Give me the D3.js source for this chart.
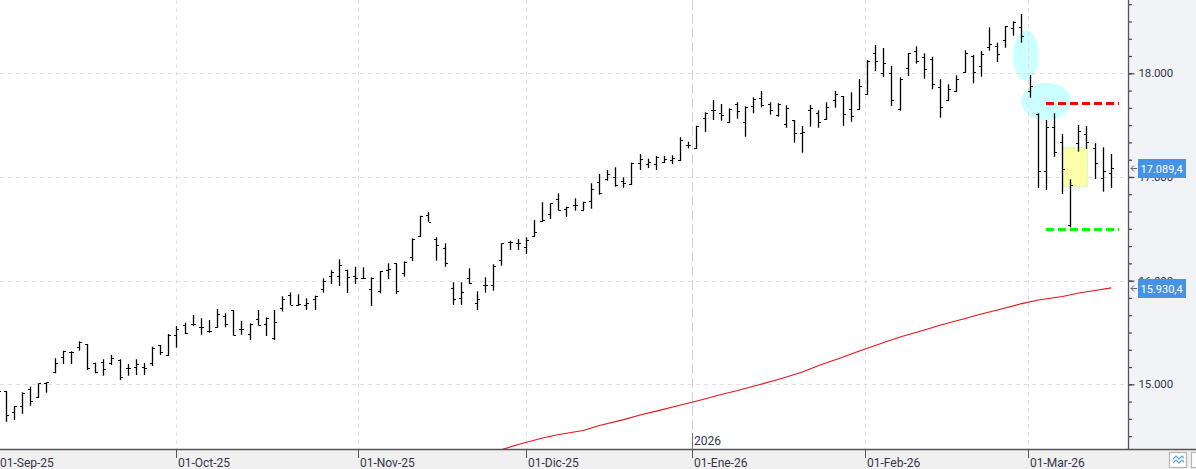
<!DOCTYPE html>
<html><head><meta charset="utf-8">
<script src="https://cdnjs.cloudflare.com/ajax/libs/d3/7.8.5/d3.min.js"></script>
<style>
html,body{margin:0;padding:0;background:#fff;overflow:hidden}
svg{display:block;font-family:Roboto,sans-serif}
</style></head><body><div id="chart"></div>
<script>
const firstBar=-1;
const opens=[14900,
14931,14733,14788,14952,14875,15010,15122,15260,15314,15357,
15386,15203,15218,15203,15234,15154,15164,15170,15203,15376,
15286,15473,15569,15579,15550,15517,15550,15659,15712,15536,
15482,15633,15582,15450,15733,15859,15765,15762,15826,15916,
16042,16042,16103,16042,16028,15916,15897,16103,16167,16071,
16225,16431,16630,16402,16312,15926,15830,16022,15781,15958,
15961,16196,16370,16366,16322,16433,16572,16643,16785,16688,
16727,16684,16765,16949,16983,16997,16961,16932,17132,17125,
17122,17144,17161,17161,17308,17282,17566,17643,17620,17533,
17704,17533,17682,17759,17704,17595,17508,17549,17427,17646,
17614,17562,17742,17781,17653,17658,17803,18193,18000,18000,
17658,18048,18212,18154,18135,17865,17740,17832,18012,18167,
18070,18254,18263,18318,18434,18447,17829,17604,17055,17485,
17334,16534,17325,17414,17276,16987,17035];
const highs=[14950,
14932,14791,14923,14977,15010,15019,15251,15324,15318,15415,
15389,15208,15241,15283,15241,15196,15241,15206,15363,15379,
15485,15562,15594,15668,15637,15620,15726,15685,15717,15611,
15588,15717,15646,15717,15849,15887,15868,15830,15855,16022,
16100,16206,16106,16134,16129,16032,16093,16167,16167,16186,
16408,16626,16662,16418,16360,15984,15984,16119,15897,16032,
16158,16360,16385,16402,16418,16585,16756,16746,16842,16713,
16794,16761,16939,17029,17067,17093,16997,17138,17221,17176,
17202,17202,17209,17383,17340,17494,17624,17742,17704,17662,
17720,17682,17768,17829,17720,17711,17691,17549,17492,17694,
17643,17720,17829,17781,17817,17945,18128,18273,18244,18070,
17961,18196,18260,18193,18160,17942,17894,17981,18222,18176,
18215,18444,18295,18456,18502,18572,17984,17614,17549,17614,
17414,16977,17501,17492,17325,17286,17221];
const lows=[14800,
14639,14656,14716,14794,14871,14919,15106,15196,15196,15324,
15138,15106,15083,15186,15041,15083,15090,15090,15177,15283,
15273,15353,15485,15562,15478,15498,15546,15550,15469,15478,
15427,15565,15466,15427,15702,15762,15755,15717,15717,15884,
15968,15948,15881,15968,16019,15755,15878,16016,15871,16038,
16189,16428,16568,16192,16134,15765,15765,15968,15717,15884,
15903,16144,16295,16295,16257,16424,16568,16595,16675,16614,
16675,16675,16694,16829,16964,16906,16896,16925,17067,17086,
17067,17135,17125,17154,17276,17273,17434,17549,17543,17523,
17562,17388,17614,17672,17601,17581,17475,17331,17234,17485,
17475,17552,17668,17494,17533,17653,17791,18022,17964,17685,
17639,17974,18093,17948,17846,17572,17736,17822,18006,17903,
17967,18218,18109,18247,18363,18295,17765,16894,16874,17195,
16836,16514,17244,17270,16980,16858,16894];
const closes=[14932,
14701,14791,14919,14842,15010,15019,15208,15318,15309,15405,
15154,15122,15145,15251,15073,15154,15193,15157,15350,15309,
15476,15531,15492,15579,15550,15517,15678,15582,15473,15536,
15585,15569,15643,15598,15820,15762,15775,15784,15855,15996,
16083,16148,16032,16028,16028,16028,16090,16115,15897,16180,
16399,16621,16568,16341,16167,15820,15887,15980,15820,15958,
16138,16360,16370,16366,16389,16466,16582,16746,16681,16707,
16727,16756,16884,16842,17031,16920,16939,17132,17170,17147,
17190,17173,17180,17357,17308,17492,17614,17643,17595,17656,
17639,17678,17752,17694,17643,17707,17662,17421,17434,17662,
17533,17672,17797,17604,17585,17875,18116,18116,18096,17740,
17945,18193,18116,18039,17894,17672,17846,17948,18193,18012,
18186,18283,18183,18456,18495,18360,17875,17055,17482,17241,
17074,16922,17443,17337,17132,17055,17089.4];
const maIndex=[61,63,66,68,71,73,76,78,80,83,85,88,90,93,95,98,100,103,105,108,110,113,115,118,120,122,125,127,130,132,134,136];
const maValues=[14371,14419,14482,14516,14554,14603,14660,14704,14742,14800,14839,14902,14940,15003,15046,15119,15181,15263,15321,15403,15456,15524,15572,15635,15678,15717,15779,15813,15847,15881,15905,15930.4];
const monthLabels=["01-Sep-25","01-Oct-25","01-Nov-25","01-Dic-25","01-Ene-26","01-Feb-26","01-Mar-26"];
const monthIndex=[-0.9,21,43.4,64,84.5,105.8,125.8];
const yearLabel="2026";
const yMajor=[15000,16000,17000,18000];
const lastPrice=17089.4, lastMA=15930.4;
const resistance=17709, support=16495;
const segmentStart=127.96, segmentEnd=136.95;
const yellowBox={i0:130,i1:133,v0:17286,v1:16906};
const ellipses=[{i:125.5,v:18173,ri:1.6,rv:243},{i:128,v:17728,ri:3.08,rv:181}];

const W=1196,H=469,plotR=1128,plotB=449;
const x=d3.scaleLinear().domain([0,136]).range([6.3,1111.3]);
const y=d3.scaleLinear().domain([15000,18000]).range([384.3,73.3]);
const svg=d3.select("#chart").append("svg").attr("width",W).attr("height",H);
svg.append("defs").append("clipPath").attr("id","plot").append("rect").attr("width",plotR).attr("height",plotB);

// panels
svg.append("rect").attr("x",plotR).attr("width",W-plotR).attr("height",plotB).attr("fill","#f2f3f7");
svg.append("rect").attr("y",plotB).attr("width",W).attr("height",H-plotB).attr("fill","#f0f0f0");

const plot=svg.append("g").attr("clip-path","url(#plot)");

// annotation shapes under the grid
plot.selectAll("ellipse").data(ellipses).join("ellipse")
 .attr("cx",d=>x(d.i)).attr("cy",d=>y(d.v))
 .attr("rx",d=>x(d.ri)-x(0)).attr("ry",d=>y(0)-y(d.rv))
 .attr("fill","#ccffff");

// grid
const gridCol="#e0e0e0";
plot.selectAll(".hg").data(yMajor).join("line").attr("class","hg")
 .attr("x1",0).attr("x2",plotR).attr("y1",d=>Math.round(y(d))+.5).attr("y2",d=>Math.round(y(d))+.5)
 .attr("stroke",gridCol).attr("stroke-dasharray","4 4");
plot.selectAll(".vg").data(monthIndex.slice(1)).join("line").attr("class","vg")
 .attr("y1",0).attr("y2",plotB).attr("x1",d=>Math.floor(x(d))+.5).attr("x2",d=>Math.floor(x(d))+.5)
 .attr("stroke",(d,i)=>i===3?"#d2d2d2":gridCol)
 .attr("stroke-dasharray",(d,i)=>i===3?"10 4":"4 4");

// yellow box
plot.append("rect")
 .attr("x",x(yellowBox.i0)+.5).attr("y",y(yellowBox.v0))
 .attr("width",x(yellowBox.i1)-x(yellowBox.i0)).attr("height",y(yellowBox.v1)-y(yellowBox.v0))
 .attr("fill","#ffffaa").attr("stroke","#ccffcc").attr("stroke-width",1);

// moving average
const maData=maIndex.map((d,i)=>[d,maValues[i]]);
plot.append("path").datum(maData)
 .attr("fill","none").attr("stroke","#e8141c").attr("stroke-width",1.2)
 .attr("d",d3.line().x(d=>x(d[0])).y(d=>y(d[1])));

// OHLC bars
const bars=opens.map((o,i)=>({i:i+firstBar,o,h:highs[i],l:lows[i],c:closes[i]}));
const px=d=>Math.floor(x(d.i))+.5;
const g=plot.append("g").attr("stroke","#000");
const bar=g.selectAll("g").data(bars).join("g");
bar.append("line").attr("stroke-width",1.3).attr("x1",px).attr("x2",px).attr("y1",d=>y(d.h)).attr("y2",d=>y(d.l));
bar.append("line").attr("stroke-width",1).attr("shape-rendering","crispEdges").attr("x1",d=>px(d)-2.5).attr("x2",px).attr("y1",d=>Math.round(y(d.o))+.5).attr("y2",d=>Math.round(y(d.o))+.5);
bar.append("line").attr("stroke-width",1).attr("shape-rendering","crispEdges").attr("x1",px).attr("x2",d=>px(d)+2.5).attr("y1",d=>Math.round(y(d.c))+.5).attr("y2",d=>Math.round(y(d.c))+.5);

// dashed levels
[[resistance,"#ff0000"],[support,"#00ff00"]].forEach(([v,c])=>{
 plot.append("line").attr("x1",x(segmentStart)).attr("x2",x(segmentEnd))
  .attr("y1",y(v)).attr("y2",y(v)).attr("stroke",c).attr("stroke-width",3)
  .attr("stroke-dasharray","8.3 3.7").attr("shape-rendering","crispEdges");
});

// y axis
const txtCol="#34344c";
const minor=d3.range(0,30).map(k=>14000+k*1000/6).filter(v=>y(v)>0&&y(v)<plotB);
const yMinor=svg.append("g").attr("transform",`translate(${plotR},0)`)
 .call(d3.axisRight(y).tickValues(minor).tickSize(4).tickFormat(""));
yMinor.select(".domain").remove();
yMinor.selectAll("line").attr("stroke","#444").attr("stroke-width",1.2);
const yAxis=svg.append("g").attr("transform",`translate(${plotR},0)`)
 .call(d3.axisRight(y).tickValues(yMajor).tickSize(6.5).tickPadding(4).tickFormat(v=>d3.format(",")(v).replace(",",".")));
yAxis.select(".domain").remove();
yAxis.selectAll("line").attr("stroke","#444").attr("stroke-width",1.2);
yAxis.selectAll("text").attr("font-family","Roboto").attr("font-size","11.5px").attr("letter-spacing","-0.15").attr("fill",txtCol);
svg.append("line").attr("x1",plotR+.5).attr("x2",plotR+.5).attr("y1",0).attr("y2",plotB).attr("stroke","#555").attr("stroke-width",1.3);

// x axis
const xAxis=svg.append("g").attr("transform",`translate(0,${plotB})`)
 .call(d3.axisBottom(x).tickValues(monthIndex).tickSize(9).tickPadding(0).tickFormat((d,i)=>monthLabels[i]));
xAxis.select(".domain").remove();
xAxis.selectAll(".tick").attr("transform",d=>`translate(${Math.floor(x(d))+.5},0)`);
xAxis.selectAll("line").attr("stroke",(d,i)=>i===0?"none":"#555").attr("stroke-width",1);
xAxis.selectAll("text").attr("text-anchor","start").attr("x",1.5).attr("y",17.5).attr("dy",0)
 .attr("font-family","Roboto").attr("font-size","12px").attr("fill",txtCol);
svg.append("line").attr("x1",0).attr("x2",W).attr("y1",plotB+.5).attr("y2",plotB+.5).attr("stroke","#555").attr("stroke-width",1.3);

// 2026 marker
svg.append("line").attr("x1",Math.floor(x(84.5))+.5).attr("x2",Math.floor(x(84.5))+.5).attr("y1",433).attr("y2",plotB).attr("stroke","#777");
svg.append("text").attr("x",Math.floor(x(84.5))+2).attr("y",445).attr("font-size","12px").attr("fill",txtCol).text(yearLabel);

// price flags
const fmt=v=>{const s=v.toFixed(1).replace(".",",");return s.slice(0,2)+"."+s.slice(2)};
[lastPrice,lastMA].forEach(v=>{
 const yy=Math.round(y(v))+.5;
 const f=svg.append("g");
 f.append("path").attr("d",`M1137 ${yy}H1131M1134 ${yy-3}L1131 ${yy}L1134 ${yy+3}`).attr("fill","none").attr("stroke","#666");
 f.append("rect").attr("x",1138).attr("y",yy-9.5).attr("width",48).attr("height",19).attr("fill","#4593e6");
 f.append("text").attr("x",1140.5).attr("y",yy+4).attr("font-size","11px").attr("fill","#fff").text(fmt(v));
});

// corner buttons
svg.append("rect").attr("x",1169.5).attr("y",452.5).attr("width",17).attr("height",15).attr("fill","#fff").attr("stroke","#b5b5b5").attr("stroke-width",1.2);
svg.append("path").attr("d","M1173 459l3-3 3 3 3-3 2 2M1173 463l3-3 3 3 3-3 2 2").attr("fill","none").attr("stroke","#5aa0d8").attr("stroke-width",1.1);
svg.append("rect").attr("x",1191.5).attr("y",452.5).attr("width",17).attr("height",15).attr("fill","#fff").attr("stroke","#b5b5b5").attr("stroke-width",1.2);
</script></body></html>
